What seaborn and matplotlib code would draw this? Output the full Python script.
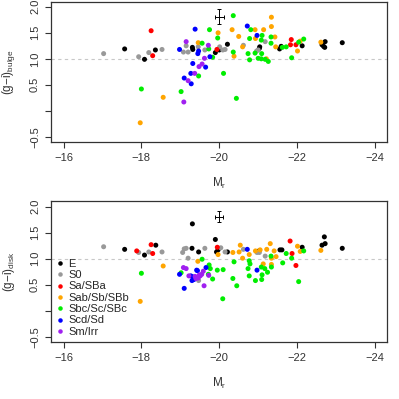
import numpy as np
import pandas as pd
import matplotlib
matplotlib.use('Agg')
import matplotlib.pyplot as plt
import seaborn as sns

sns.set_style('ticks')
plt.rcParams['font.family'] = ['Liberation Sans', 'DejaVu Sans']
plt.rcParams['mathtext.fontset'] = 'custom'
plt.rcParams['mathtext.rm'] = 'Liberation Sans'
plt.rcParams['mathtext.it'] = 'Liberation Sans:italic'

types = ['E', 'S0', 'Sa/SBa', 'Sab/Sb/SBb', 'Sbc/Sc/SBc', 'Scd/Sd', 'Sm/Irr']
type_colors = ['black', '#999999', 'red', 'orange', '#00ee00', 'blue', '#a020f0']

# bulge colours (top panel)
bulge_mag_E = [-17.57, -18.08, -18.36, -19.31, -19.32, -20.21, -20.00, -19.90, -21.04, -21.03,
               -21.55, -21.59, -22.13, -22.64, -22.72, -22.68, -22.71, -23.16]
bulge_gi_E = [1.19, 0.99, 1.17, 1.22, 1.18, 1.28, 1.17, 1.12, 1.23, 1.20,
              1.19, 1.24, 1.25, 1.27, 1.33, 1.24, 1.22, 1.31]
bulge_mag_S0 = [-17.03, -17.93, -18.19, -18.53, -19.08, -19.15, -19.20, -19.46, -19.63, -20.01,
                -20.15, -20.62, -21.18, -21.00, -20.96, -20.09]
bulge_gi_S0 = [1.10, 1.04, 1.12, 1.18, 1.13, 1.25, 1.13, 1.23, 1.17, 1.23,
               1.18, 1.26, 1.33, 1.17, 1.15, 1.17]
bulge_mag_Sa = [-18.25, -18.29, -19.94, -21.83, -21.85, -21.97]
bulge_gi_Sa = [1.54, 1.06, 1.18, 1.27, 1.37, 1.27]
bulge_mag_Sab = [-17.97, -18.56, -19.46, -19.97, -20.33, -20.50, -20.38, -20.60, -21.34, -21.34,
                 -21.14, -20.92, -20.93, -21.43, -21.45, -21.21, -22.01, -22.08, -22.61]
bulge_gi_Sab = [-0.23, 0.26, 1.31, 1.50, 1.56, 1.43, 1.05, 1.23, 1.80, 1.62,
                1.56, 1.56, 1.39, 1.42, 1.23, 1.00, 1.15, 1.34, 1.32]
bulge_mag_Sbc = [-18.00, -19.02, -19.47, -19.75, -19.96, -19.56, -19.73, -19.83, -20.11, -20.36,
                 -20.81, -21.10, -20.78, -21.08, -21.33, -21.33, -20.36, -20.74, -20.78, -20.92,
                 -21.09, -21.00, -21.08, -21.18, -21.26, -21.62, -21.72, -22.17, -22.04, -21.86,
                 -20.44]
bulge_gi_Sbc = [0.42, 0.37, 0.67, 1.56, 1.40, 1.30, 1.19, 1.03, 0.72, 1.83,
                1.56, 1.45, 1.39, 1.36, 1.42, 1.30, 1.13, 1.10, 0.98, 1.11,
                1.10, 1.01, 1.00, 0.99, 0.95, 1.22, 1.23, 1.38, 1.32, 1.02,
                0.24]
bulge_mag_Scd = [-18.98, -19.38, -19.45, -19.47, -19.32, -19.10, -19.28, -19.27, -19.76, -19.65,
                 -20.72, -20.97]
bulge_gi_Scd = [1.18, 1.57, 1.10, 1.15, 0.91, 0.63, 0.52, 0.72, 1.04, 0.84,
                1.63, 1.45]
bulge_mag_Sm = [-19.09, -19.15, -19.20, -19.37, -19.48, -19.72, -19.62, -19.56]
bulge_gi_Sm = [0.17, 1.33, 0.58, 0.72, 0.85, 1.26, 1.01, 0.90]

# disk colours (bottom panel)
disk_mag_E = [-17.57, -18.08, -18.37, -19.31, -19.30, -19.47, -19.90, -19.97, -19.93, -20.21,
              -21.02, -21.56, -21.61, -22.13, -22.64, -22.72, -22.70, -23.16]
disk_gi_E = [1.18, 1.07, 1.26, 1.67, 1.20, 1.13, 1.37, 1.17, 1.13, 1.13,
             1.15, 1.17, 1.17, 1.22, 1.26, 1.29, 1.42, 1.20]
disk_mag_S0 = [-17.03, -17.93, -18.19, -18.53, -19.06, -19.10, -19.15, -19.20, -19.47, -19.63,
               -20.04, -20.15, -20.62, -20.97, -21.03, -21.18]
disk_gi_S0 = [1.23, 1.12, 1.13, 1.13, 1.12, 1.19, 1.20, 1.01, 0.58, 1.20,
              1.21, 1.13, 1.18, 1.12, 1.12, 1.05]
disk_mag_Sa = [-17.88, -18.25, -18.29, -19.95, -21.82, -21.87, -21.97]
disk_gi_Sa = [1.15, 1.27, 1.10, 1.22, 1.34, 1.10, 0.87]
disk_mag_Sab = [-17.97, -18.56, -19.45, -19.97, -20.54, -20.35, -20.51, -20.60, -20.77, -20.93,
                -21.05, -21.22, -21.31, -21.34, -21.41, -21.46, -22.01, -22.08, -22.61, -21.13,
                -21.34]
disk_gi_Sab = [0.18, 0.86, 0.95, 1.08, 1.26, 1.12, 1.13, 1.01, 1.08, 1.15,
               1.17, 1.18, 1.29, 1.01, 1.15, 1.04, 1.24, 1.14, 1.16, 0.90,
               0.89]
disk_mag_Sbc = [-18.00, -19.02, -19.56, -19.74, -19.77, -19.95, -20.10, -19.72, -19.83, -20.38,
                -20.77, -20.79, -20.74, -21.08, -21.17, -21.10, -21.24, -21.34, -21.63, -20.77,
                -21.09, -20.93, -20.35, -20.45, -22.04, -20.09, -21.72, -22.17, -21.86, -21.33]
disk_gi_Sbc = [0.72, 0.73, 0.99, 0.88, 0.81, 0.78, 0.79, 0.70, 0.61, 0.94,
               0.96, 0.90, 0.81, 0.84, 0.81, 0.69, 0.74, 0.84, 0.92, 0.67,
               0.60, 0.58, 0.62, 0.48, 0.56, 0.23, 1.10, 1.15, 1.01, 1.05]
disk_mag_Scd = [-18.98, -19.10, -19.27, -19.33, -19.30, -19.35, -19.44, -19.66, -19.42, -20.72,
                -20.97]
disk_gi_Scd = [0.70, 0.43, 0.67, 0.65, 0.58, 0.60, 0.77, 0.83, 0.78, 1.18,
               0.78]
disk_mag_Sm = [-19.08, -19.15, -19.22, -19.38, -19.49, -19.59, -19.55, -19.51, -19.46, -19.40,
               -19.61, -19.73]
disk_gi_Sm = [0.83, 0.81, 0.67, 0.66, 0.69, 0.76, 0.70, 0.67, 0.63, 0.62,
              0.48, 0.68]

# typical error bars
err_mag = -20.0
bulge_err = (1.81, 0.11, 0.14)
disk_err = (1.81, 0.10, 0.11)


def make_frame(mags, vals):
    rows = []
    for t, m, v in zip(types, mags, vals):
        rows.append(pd.DataFrame({'mag': m, 'gi': v, 'type': t}))
    return pd.concat(rows, ignore_index=True)


bulge_df = make_frame(
    [bulge_mag_E, bulge_mag_S0, bulge_mag_Sa, bulge_mag_Sab, bulge_mag_Sbc, bulge_mag_Scd, bulge_mag_Sm],
    [bulge_gi_E, bulge_gi_S0, bulge_gi_Sa, bulge_gi_Sab, bulge_gi_Sbc, bulge_gi_Scd, bulge_gi_Sm])
disk_df = make_frame(
    [disk_mag_E, disk_mag_S0, disk_mag_Sa, disk_mag_Sab, disk_mag_Sbc, disk_mag_Scd, disk_mag_Sm],
    [disk_gi_E, disk_gi_S0, disk_gi_Sa, disk_gi_Sab, disk_gi_Sbc, disk_gi_Scd, disk_gi_Sm])

palette = dict(zip(types, type_colors))

fig = plt.figure(figsize=(3.99, 3.99), dpi=100)
ax1 = fig.add_axes([0.128, 0.644, 0.842, 0.352])
ax2 = fig.add_axes([0.128, 0.143, 0.842, 0.352])

panels = [(ax1, bulge_df, bulge_err, '(g\u2212i)$_{\\rm bulge}$'),
          (ax2, disk_df, disk_err, '(g\u2212i)$_{\\rm disk}$')]

for ax, df, err, ylab in panels:
    ax.axhline(1.0, color='#c8c8c8', lw=0.8, ls=(0, (3, 3)), zorder=0)
    sns.scatterplot(data=df, x='mag', y='gi', hue='type', hue_order=types, palette=palette,
                    s=13, linewidth=0, ax=ax, legend=(ax is ax2))
    ax.errorbar([err_mag], [err[0]], xerr=[err[1]], yerr=[err[2]], fmt='none',
                ecolor='black', elinewidth=0.7, capsize=1.5, capthick=0.7)
    ax.set_xlim(-15.68, -24.31)
    ax.set_ylim(-0.6, 2.1)
    ax.set_xticks([-16, -18, -20, -22, -24])
    ax.set_xticklabels(['\u221216', '\u221218', '\u221220', '\u221222', '\u221224'])
    ax.set_yticks([-0.5, 0.0, 0.5, 1.0, 1.5, 2.0])
    ax.set_yticklabels(['\u22120.5', '', '0.5', '1.0', '1.5', '2.0'], rotation=90, va='center')
    ax.tick_params(direction='out', length=4, width=0.8, labelsize=8, colors='#333333', pad=4)
    for sp in ax.spines.values():
        sp.set_visible(True)
        sp.set_linewidth(0.9)
        sp.set_color('#333333')
    ax.set_xlabel('M$_{\\rm r}$', fontsize=8.5, color='#333333', labelpad=9)
    ax.set_ylabel(ylab, fontsize=8.5, color='#333333', labelpad=9)

leg = ax2.legend(loc='upper left', bbox_to_anchor=(-0.012, 0.64), frameon=False, fontsize=8,
                 handletextpad=0.1, labelspacing=0.12, borderaxespad=0.2, markerscale=0.9,
                 handlelength=1.2)

fig.savefig('out.png', dpi=100)
